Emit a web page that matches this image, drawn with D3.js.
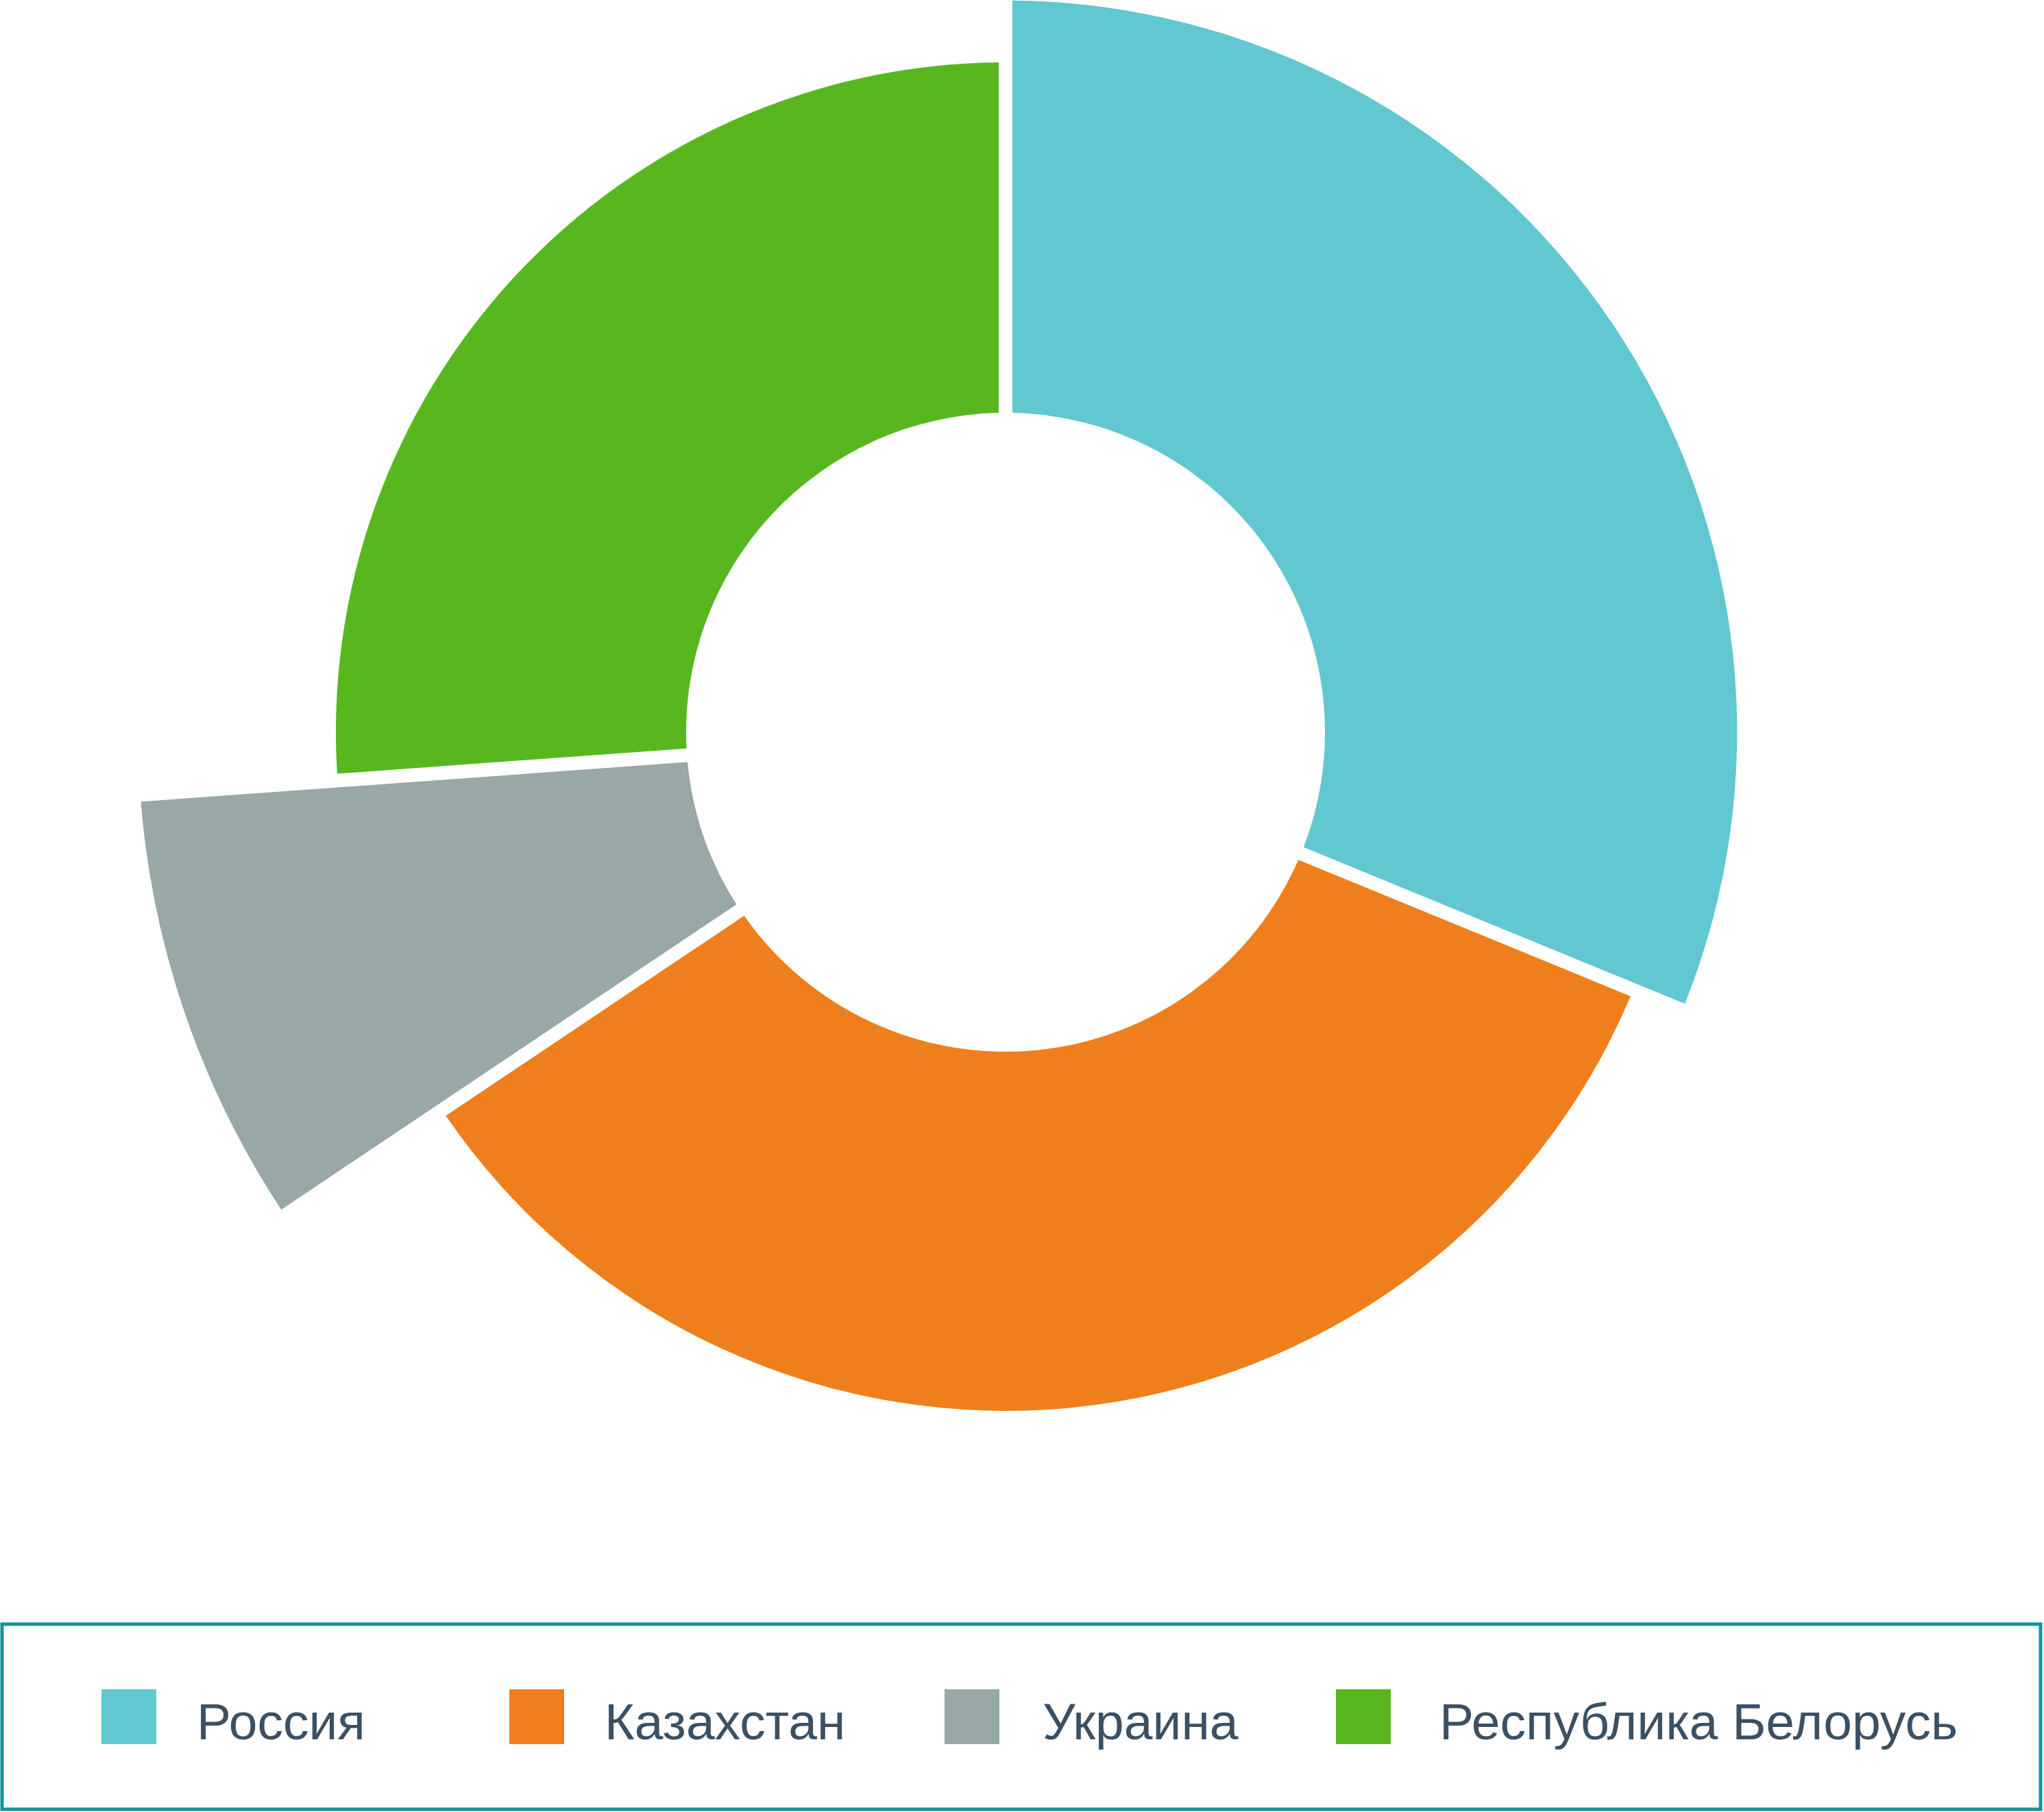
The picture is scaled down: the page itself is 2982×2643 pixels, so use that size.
<!DOCTYPE html>
<html>
<head>
<meta charset="utf-8">
<script src="https://cdn.jsdelivr.net/npm/d3@7"></script>
<style>
  html, body { margin: 0; padding: 0; background: #ffffff; }
  svg { display: block; }
</style>
</head>
<body>
<script>
// ---- data ----
const categories = ["Россия", "Казахстан", "Украина", "Республика Белорусь"];
const shareValues = [31.2, 34.4, 8.25, 26.15];    // angular share, %
const radiusValues = [74.6, 65.0, 99.2, 63.4];    // relative ring depth
const colors = ["#61C7D0", "#EE7F1C", "#97A8A6", "#58B71F"];

// ---- layout ----
const W = 2982, H = 2643;
const cx = 1467, cy = 1068;
const innerR = 466, maxOuterR = 1272;

const data = categories.map((c, i) => ({ name: c, share: shareValues[i], depth: radiusValues[i], color: colors[i] }));

const svg = d3.select("body").append("svg").attr("width", W).attr("height", H);

const rScale = d3.scaleLinear().domain([0, 100]).range([innerR, maxOuterR]);

const pie = d3.pie().value(d => d.share).sort(null);

const arc = d3.arc()
  .innerRadius(innerR)
  .outerRadius(d => rScale(d.data.depth))
  .padAngle(20 / innerR)
  .padRadius(innerR);

svg.append("g").attr("transform", `translate(${cx},${cy})`)
  .selectAll("path").data(pie(data)).join("path")
  .attr("d", arc)
  .attr("fill", d => d.data.color);

// ---- legend ----
const legend = svg.append("g");
legend.append("rect")
  .attr("x", 3).attr("y", 2369).attr("width", 2974).attr("height", 270)
  .attr("fill", "#ffffff").attr("stroke", "#109595").attr("stroke-width", 5);

const swatchX = [148, 743, 1378, 1949];
const labelX = [287, 882, 1521, 2100];
const items = legend.selectAll("g.item").data(data).join("g")
  .attr("class", "item");
items.append("rect")
  .attr("x", (d, i) => swatchX[i]).attr("y", 2464)
  .attr("width", 80).attr("height", 80).attr("fill", d => d.color);
items.append("text")
  .attr("x", (d, i) => labelX[i]).attr("y", 2537)
  .attr("font-family", "'Liberation Sans', Arial, sans-serif")
  .attr("font-size", 75)
  .attr("fill", "#3B5063")
  .text(d => d.name);
</script>
</body>
</html>
